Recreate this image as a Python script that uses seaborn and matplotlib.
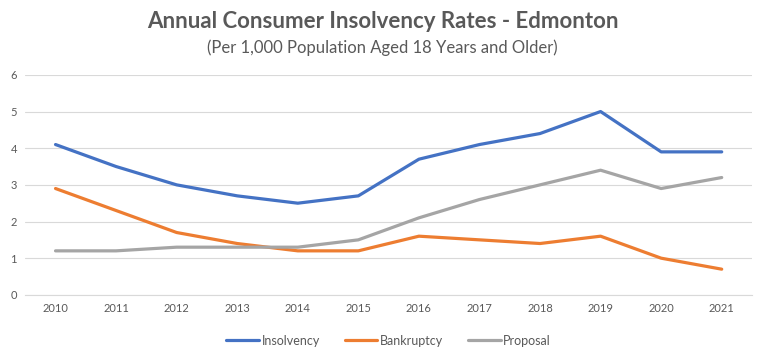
import matplotlib
matplotlib.use("Agg")
import matplotlib.pyplot as plt
import seaborn as sns
import pandas as pd

years = [2010, 2011, 2012, 2013, 2014, 2015, 2016, 2017, 2018, 2019, 2020, 2021]
insolvency = [4.1, 3.5, 3.0, 2.7, 2.5, 2.7, 3.7, 4.1, 4.4, 5.0, 3.9, 3.9]
bankruptcy = [2.9, 2.3, 1.7, 1.4, 1.2, 1.2, 1.6, 1.5, 1.4, 1.6, 1.0, 0.7]
proposal = [1.2, 1.2, 1.3, 1.3, 1.3, 1.5, 2.1, 2.6, 3.0, 3.4, 2.9, 3.2]
series_names = ["Insolvency", "Bankruptcy", "Proposal"]
colors = ["#4472C4", "#ED7D31", "#A5A5A5"]
y_ticks = [0, 1, 2, 3, 4, 5, 6]

rows = []
for name, vals in zip(series_names, [insolvency, bankruptcy, proposal]):
    for i, (yr, v) in enumerate(zip(years, vals)):
        rows.append({"idx": i, "Year": str(yr), "Series": name, "Value": v})
df = pd.DataFrame(rows)

sns.set_theme(style="white")
plt.rcParams["font.family"] = ["Lato", "DejaVu Sans"]

fig = plt.figure(figsize=(7.65, 3.6), dpi=100)
ax = fig.add_axes([0.033, 0.181, 0.950, 0.611])

sns.lineplot(data=df, x="idx", y="Value", hue="Series", hue_order=series_names,
             palette=colors, linewidth=2.3, ax=ax, legend=True)

ax.set_xlim(-0.5, len(years) - 0.5)
ax.set_ylim(0, 6)
ax.set_yticks(y_ticks)
ax.set_xticks(range(len(years)))
ax.set_xticklabels([str(y) for y in years])
ax.grid(axis="y", color="#D9D9D9", linewidth=0.8)
ax.set_axisbelow(True)
for s in ["top", "right", "left"]:
    ax.spines[s].set_visible(False)
ax.spines["bottom"].set_color("#D9D9D9")
ax.spines["bottom"].set_linewidth(0.8)
ax.tick_params(axis="both", length=0, labelsize=8, colors="#595959", pad=6)
ax.set_xlabel("")
ax.set_ylabel("")

handles, labels = ax.get_legend_handles_labels()
ax.legend(handles, labels, loc="upper center", bbox_to_anchor=(0.5, -0.13),
          ncol=3, frameon=False, fontsize=9, handlelength=2.6, handletextpad=0.2,
          columnspacing=2.0, labelcolor="#595959")

fig.text(0.5, 0.94, "Annual Consumer Insolvency Rates - Edmonton", ha="center",
         va="center", fontsize=16, fontweight="bold", color="#595959")
fig.text(0.5, 0.868, "(Per 1,000 Population Aged 18 Years and Older)", ha="center",
         va="center", fontsize=12, color="#595959")

fig.savefig("out.png", dpi=100)
